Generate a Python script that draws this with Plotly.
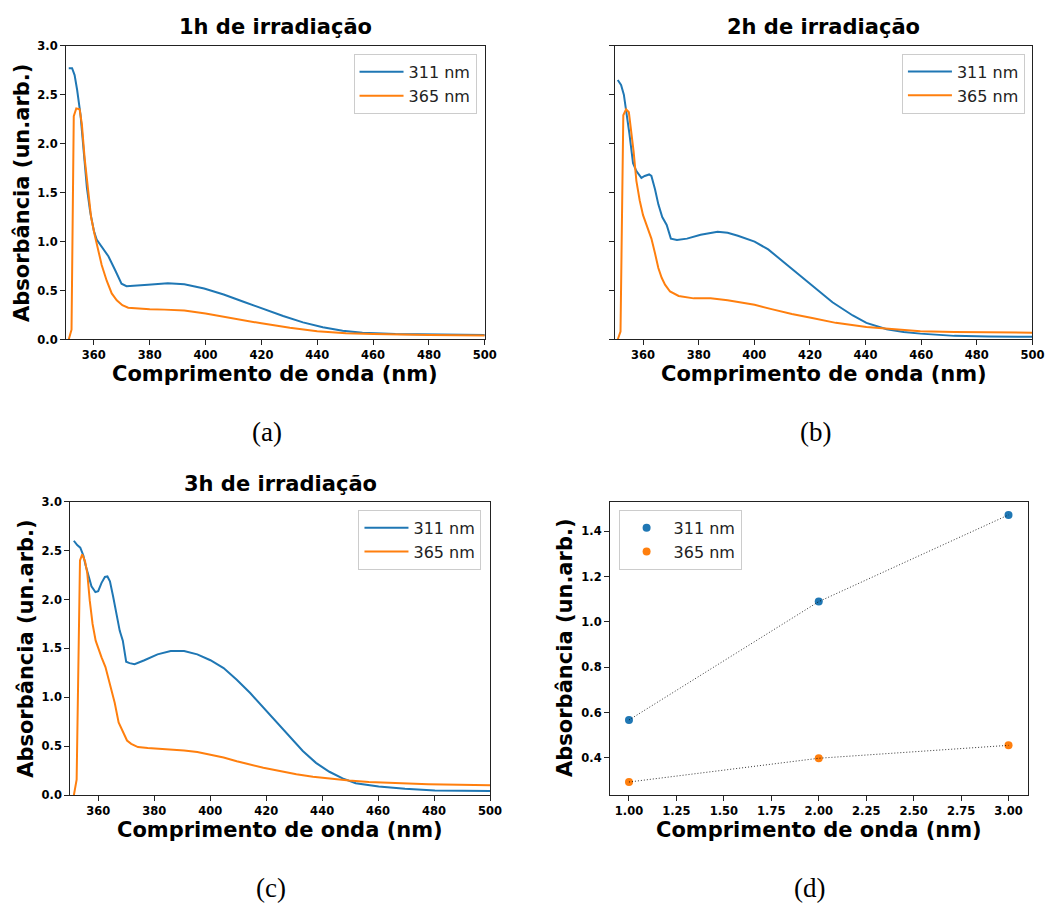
import plotly.graph_objects as go

W, H = 1057, 909

# ---------------- data ----------------
# (a) 1h irradiation
wl_1h_311 = [351, 352.2, 353.1, 354, 355.2, 356.3, 357.5, 358.7, 360, 361, 362.8, 364.6, 365.2, 367.6, 369.9,
             371.7, 373.5, 379.4, 386.5, 392.4, 399.5, 406.5, 413.6, 420.7, 427.8, 434.9, 442, 449.1, 456.2,
             468, 479.8, 500]
abs_1h_311 = [2.77, 2.77, 2.70, 2.55, 2.30, 1.90, 1.55, 1.30, 1.11, 1.02, 0.95, 0.88, 0.85, 0.71, 0.57,
              0.545, 0.55, 0.56, 0.575, 0.565, 0.52, 0.46, 0.385, 0.31, 0.24, 0.175, 0.125, 0.09, 0.07,
              0.055, 0.05, 0.045]
wl_1h_365 = [351, 352, 352.8, 353.7, 354.9, 355.7, 356.7, 357.9, 359, 360.2, 361.4, 362.8, 364.6, 366.4,
             368.2, 370.2, 372.3, 375.8, 380, 385.3, 392.4, 400, 408.9, 420, 430.2, 440, 450.3, 460, 480, 500]
abs_1h_365 = [0.0, 0.1, 2.28, 2.36, 2.35, 2.2, 1.85, 1.5, 1.25, 1.08, 0.92, 0.76, 0.6, 0.47,
              0.40, 0.35, 0.325, 0.315, 0.31, 0.305, 0.295, 0.265, 0.22, 0.165, 0.12, 0.085, 0.065, 0.055, 0.045, 0.04]

# (b) 2h irradiation
wl_2h_311 = [350.9, 352.1, 353.1, 353.9, 355.1, 356.4, 357.6, 359.4, 360.6, 362.2, 363, 364.3, 365.5, 366.9,
             368.5, 370, 372.2, 375.8, 380.7, 386.8, 390.4, 394.1, 400.1, 405, 411.1, 419.6, 428.1, 435.4,
             440.3, 447.6, 453.7, 459.7, 471.9, 484.1, 500]
abs_2h_311 = [2.65, 2.6, 2.5, 2.35, 2.1, 1.8, 1.72, 1.65, 1.67, 1.685, 1.67, 1.535, 1.38, 1.25,
              1.17, 1.03, 1.015, 1.03, 1.07, 1.1, 1.09, 1.06, 1.0, 0.92, 0.78, 0.58, 0.38, 0.245,
              0.17, 0.105, 0.077, 0.06, 0.037, 0.03, 0.027]
wl_2h_365 = [350.9, 351.9, 352.9, 353.9, 354.9, 355.7, 356.6, 357.6, 358.8, 360, 361.2, 363, 364.3, 365.5,
             366.7, 367.9, 369.7, 372.8, 378.2, 384.3, 390.4, 396.5, 400.1, 406.2, 413.5, 420.8, 429.3,
             440.3, 451.2, 459.7, 471.9, 484.1, 500]
abs_2h_365 = [0.0, 0.08, 2.29, 2.35, 2.32, 2.15, 1.92, 1.62, 1.42, 1.27, 1.17, 1.03, 0.88, 0.73,
              0.63, 0.56, 0.49, 0.445, 0.42, 0.42, 0.40, 0.37, 0.355, 0.31, 0.26, 0.22, 0.17,
              0.127, 0.1, 0.084, 0.077, 0.074, 0.07]

# (c) 3h irradiation
wl_3h_311 = [351.3, 352.5, 353.6, 354.7, 355.5, 356.5, 357.6, 359, 360, 361.2, 362.4, 363.3, 364.2, 365.3,
             366.5, 367.7, 368.8, 369.4, 370, 371.2, 373, 376.5, 381.2, 385.9, 390.7, 395.4, 400.1, 404.8,
             409.5, 414.3, 419, 423.7, 428.4, 433.1, 437.8, 442.6, 447.3, 452, 460.2, 469.6, 480.3, 500]
abs_3h_311 = [2.6, 2.555, 2.53, 2.45, 2.35, 2.24, 2.135, 2.075, 2.085, 2.17, 2.23, 2.235, 2.185, 2.035,
              1.85, 1.68, 1.58, 1.45, 1.365, 1.35, 1.34, 1.38, 1.44, 1.475, 1.475, 1.44, 1.38, 1.3,
              1.18, 1.045, 0.895, 0.745, 0.593, 0.453, 0.332, 0.241, 0.174, 0.124, 0.09, 0.067, 0.05, 0.044]
wl_3h_365 = [351.3, 352.3, 353.5, 354.3, 355.3, 356.1, 357, 358, 359.1, 360, 361.2, 362.6, 364.1, 365.9,
             367.3, 368.8, 370.3, 371.8, 374.2, 377.7, 381.2, 385.9, 390.7, 395.4, 400.1, 404.8, 409.5,
             414.3, 419, 424.9, 430.8, 436.7, 442.6, 449.6, 456.7, 466.1, 477.9, 500]
abs_3h_365 = [0.0, 0.16, 2.4, 2.46, 2.39, 2.27, 1.985, 1.75, 1.58, 1.5, 1.41, 1.31, 1.145, 0.945,
              0.744, 0.66, 0.56, 0.526, 0.493, 0.483, 0.476, 0.469, 0.459, 0.442, 0.416, 0.386, 0.349,
              0.315, 0.282, 0.248, 0.215, 0.191, 0.171, 0.151, 0.137, 0.124, 0.114, 0.104]

# (d) summary
hours = [1.0, 2.0, 3.0]
peak_311 = [0.567, 1.09, 1.473]
peak_365 = [0.293, 0.398, 0.455]

series_names = ["311 nm", "365 nm"]
titles = ["1h de irradiação", "2h de irradiação", "3h de irradiação"]
sublabels = ["(a)", "(b)", "(c)", "(d)"]
xlabel = "Comprimento de onda (nm)"
ylabel = "Absorbância (un.arb.)"

BLUE = "#1f77b4"
ORANGE = "#ff7f0e"

# ---------------- layout helpers ----------------
def px(x):
    return x / W

def py(y):
    return 1 - y / H

# plot areas in pixels: (left, right, top, bottom)
boxes = [
    (66.7, 490.3, 39.3, 337.7),
    (622.3, 1044.3, 39.3, 337.7),
    (71.0, 495.7, 502.3, 800.7),
    (617.0, 1039.3, 502.3, 800.7),
]

fig = go.Figure()

tickfont = dict(family="DejaVu Sans", size=11.5, color="black", weight="bold")
labfont = dict(family="DejaVu Sans", size=21, color="black", weight="bold")
legfont = dict(family="DejaVu Sans", size=16, color="#222")

spectra = [
    (wl_1h_311, abs_1h_311, wl_1h_365, abs_1h_365),
    (wl_2h_311, abs_2h_311, wl_2h_365, abs_2h_365),
    (wl_3h_311, abs_3h_311, wl_3h_365, abs_3h_365),
]
legends = ["legend", "legend2", "legend3"]

for i, (xb, yb, xo, yo) in enumerate(spectra):
    sfx = "" if i == 0 else str(i + 1)
    fig.add_trace(go.Scatter(x=xb, y=yb, mode="lines", name=series_names[0],
                             line=dict(color=BLUE, width=2), xaxis="x" + sfx, yaxis="y" + sfx,
                             legend=legends[i]))
    fig.add_trace(go.Scatter(x=xo, y=yo, mode="lines", name=series_names[1],
                             line=dict(color=ORANGE, width=2), xaxis="x" + sfx, yaxis="y" + sfx,
                             legend=legends[i]))

# panel (d)
fig.add_trace(go.Scatter(x=hours, y=peak_311, mode="markers", name=series_names[0],
                         marker=dict(color=BLUE, size=8), xaxis="x4", yaxis="y4", legend="legend4"))
fig.add_trace(go.Scatter(x=hours, y=peak_365, mode="markers", name=series_names[1],
                         marker=dict(color=ORANGE, size=8), xaxis="x4", yaxis="y4", legend="legend4"))
for yy in (peak_311, peak_365):
    fig.add_trace(go.Scatter(x=hours, y=yy, mode="lines", showlegend=False,
                             line=dict(color="rgba(0,0,0,0.8)", width=1, dash="1px,2px"),
                             xaxis="x4", yaxis="y4", hoverinfo="skip"))

axis_common = dict(showline=True, linecolor="#222", linewidth=1, mirror=True, ticks="outside",
                   ticklen=5, tickwidth=1, tickcolor="#222", showgrid=False, zeroline=False,
                   tickfont=tickfont)

layout = dict(width=W, height=H, margin=dict(l=0, r=0, t=0, b=0),
              paper_bgcolor="white", plot_bgcolor="white", showlegend=True)

for i, (l, r, t, b) in enumerate(boxes):
    sfx = "" if i == 0 else str(i + 1)
    xa = dict(axis_common, domain=[px(l), px(r)], anchor="y" + sfx)
    ya = dict(axis_common, domain=[py(b), py(t)], anchor="x" + sfx)
    if i < 3:
        xa.update(range=[350, 500], tickmode="array", tickvals=[360, 380, 400, 420, 440, 460, 480, 500])
        ya.update(range=[0, 3.0], tickmode="array", tickvals=[0, 0.5, 1.0, 1.5, 2.0, 2.5, 3.0],
                  tickformat=".1f")
        if i == 1:
            ya.update(showticklabels=False)
    else:
        xa.update(range=[0.9, 3.1], tickmode="array",
                  tickvals=[1.0, 1.25, 1.5, 1.75, 2.0, 2.25, 2.5, 2.75, 3.0], tickformat=".2f")
        ya.update(range=[0.234, 1.532], tickmode="array", tickvals=[0.4, 0.6, 0.8, 1.0, 1.2, 1.4],
                  tickformat=".1f")
    layout["xaxis" + sfx] = xa
    layout["yaxis" + sfx] = ya

leg_common = dict(font=legfont, bordercolor="#cccccc", borderwidth=1, bgcolor="rgba(255,255,255,0.8)",
                  itemwidth=44, tracegroupgap=0)
layout["legend"] = dict(leg_common, x=px(482), y=py(47.7), xanchor="right", yanchor="top")
layout["legend2"] = dict(leg_common, x=px(1036.7), y=py(47.3), xanchor="right", yanchor="top")
layout["legend3"] = dict(leg_common, x=px(487), y=py(510.7), xanchor="right", yanchor="top")
layout["legend4"] = dict(leg_common, x=px(625.7), y=py(510.7), xanchor="left", yanchor="top")

fig.update_layout(**layout)

ann = []
# titles
title_y = [20, 20, 484]
for i in range(3):
    l, r, t, b = boxes[i]
    ann.append(dict(text=titles[i], x=px((l + r) / 2), y=py(title_y[i]), xref="paper", yref="paper",
                    showarrow=False, xanchor="center", yanchor="middle", font=labfont, borderpad=0))
# axis titles
xlab_y = [372.5, 372.5, 836, 836]
ylab_x = [21.7, None, 26.7, 572]
for i, (l, r, t, b) in enumerate(boxes):
    ann.append(dict(text=xlabel, x=px((l + r) / 2), y=py(xlab_y[i]), xref="paper", yref="paper",
                    showarrow=False, xanchor="center", yanchor="middle", font=labfont, borderpad=0))
    if ylab_x[i] is not None:
        ann.append(dict(text=ylabel, x=px(ylab_x[i]), y=py((t + b) / 2), xref="paper", yref="paper",
                        showarrow=False, xanchor="center", yanchor="middle", textangle=-90,
                        font=labfont, borderpad=0))
# sub labels
sub_pos = [(270, 432), (825, 432), (274, 895), (819, 895)]
for s, (x, y) in zip(sublabels, sub_pos):
    ann.append(dict(text=s, x=px(x), y=py(y), xref="paper", yref="paper", showarrow=False,
                    xanchor="center", yanchor="middle",
                    font=dict(family="Liberation Serif", size=27, color="black")))

fig.update_layout(annotations=ann)
fig.write_html("out.html")
